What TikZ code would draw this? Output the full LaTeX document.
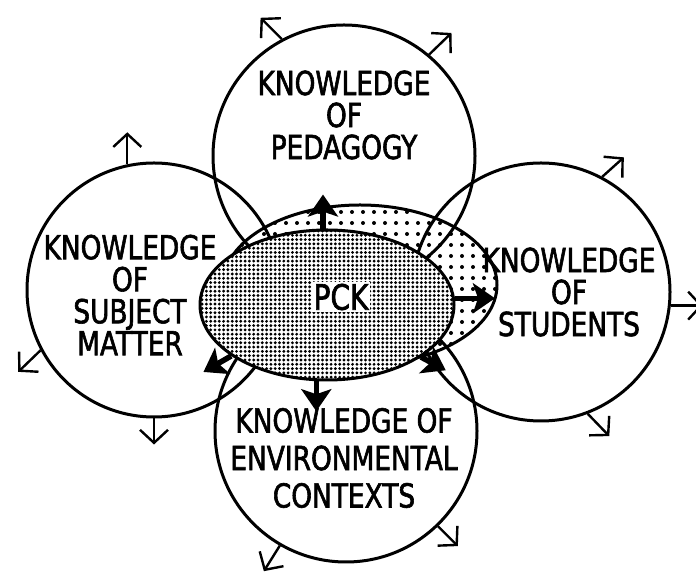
\documentclass[tikz,border=0pt]{standalone}
\usepackage{fontspec}
\usetikzlibrary{shapes.geometric,arrows.meta,patterns.meta}
\newfontfamily\kfont[FakeStretch=0.8,FakeBold=1.8]{DejaVu Sans}
\tikzset{
  circ/.style={circle,draw,line width=3pt,inner sep=0pt},
  oval/.style={ellipse,draw,line width=3pt,inner sep=0pt},
  thinarrow/.style={line width=2.4pt,-{Straight Barb[length=13pt,width=28pt]}},
  thickarrow/.style={line width=5.5pt,-{Stealth[length=22pt,width=30pt,inset=5pt]}},
  label/.style={align=center,font=\kfont\fontsize{33}{32}\selectfont,inner sep=0pt},
}
\begin{document}
\begin{tikzpicture}[x=1pt,y=1pt]
\useasboundingbox (0,0) rectangle (696,575);
\fill[white] (0,0) rectangle (696,575);
% outer lightly dotted ellipse
\node[oval,minimum width=274pt,minimum height=160pt,
      pattern={Dots[distance=11pt,radius=2pt]}] (outer) at (360,290) {};
% four circles
\node[circ,minimum size=262pt] (ped) at (344,419) {};
\node[circ,minimum size=254pt] (sub) at (154,285) {};
\node[circ,minimum size=258pt] (stu) at (541,283) {};
\node[circ,minimum size=262pt] (env) at (346,144) {};
% dense PCK ellipse
\node[oval,minimum width=254pt,minimum height=150pt,preaction={fill=white},
      pattern={Dots[distance=4.3pt,radius=1.6pt]}] (pck) at (327,270) {};
\node[font=\kfont\fontsize{35}{35}\selectfont,fill=white,inner sep=2pt] (pcktxt) at (341,278) {PCK};
% thin outward arrows
\path (ped.118) ++(135:30) coordinate (p1) (ped.50) ++(44:31) coordinate (p2);
\path (sub.102) ++(90:32) coordinate (s1) (sub.208) ++(224:31) coordinate (s2)
      (sub.270) ++(270:26) coordinate (s3);
\path (stu.62) ++(42:29) coordinate (t1) (stu.-6) ++(0:32) coordinate (t2)
      (stu.-69) ++(-46:31) coordinate (t3);
\path (env.-46) ++(-45:28) coordinate (e1) (env.240) ++(238:30) coordinate (e2);
\draw[thinarrow] (ped.118) -- (p1);
\draw[thinarrow] (ped.50) -- (p2);
\draw[thinarrow] (sub.102) -- (s1);
\draw[thinarrow] (sub.208) -- (s2);
\draw[thinarrow] (sub.270) -- (s3);
\draw[thinarrow] (stu.62) -- (t1);
\draw[thinarrow] (stu.-6) -- (t2);
\draw[thinarrow] (stu.-69) -- (t3);
\draw[thinarrow] (env.-46) -- (e1);
\draw[thinarrow] (env.240) -- (e2);
% thick arrows from PCK
\path (pck.93) ++(90:34) coordinate (k1) (pck.3) ++(0:40) coordinate (k2)
      (pck.262) ++(270:30) coordinate (k3) (pck.208) ++(210:32) coordinate (k4)
      (pck.-29) ++(-28:28) coordinate (k5);
\draw[thickarrow] (pck.93) -- (k1);
\draw[thickarrow] (pck.3) -- (k2);
\draw[thickarrow] (pck.262) -- (k3);
\draw[thickarrow] (pck.208) -- (k4);
\draw[thickarrow] (pck.-29) -- (k5);
% labels
\node[label] (pedtxt) at (344,460) {KNOWLEDGE\\OF\\PEDAGOGY};
\node[label] (subtxt) at (130,280) {KNOWLEDGE\\OF\\SUBJECT\\MATTER};
\node[label] (stutxt) at (569,283) {KNOWLEDGE\\OF\\STUDENTS};
\node[label,font=\kfont\fontsize{33}{37.5}\selectfont] (envtxt) at (344,117) {KNOWLEDGE OF\\ENVIRONMENTAL\\CONTEXTS};
\end{tikzpicture}
\end{document}
